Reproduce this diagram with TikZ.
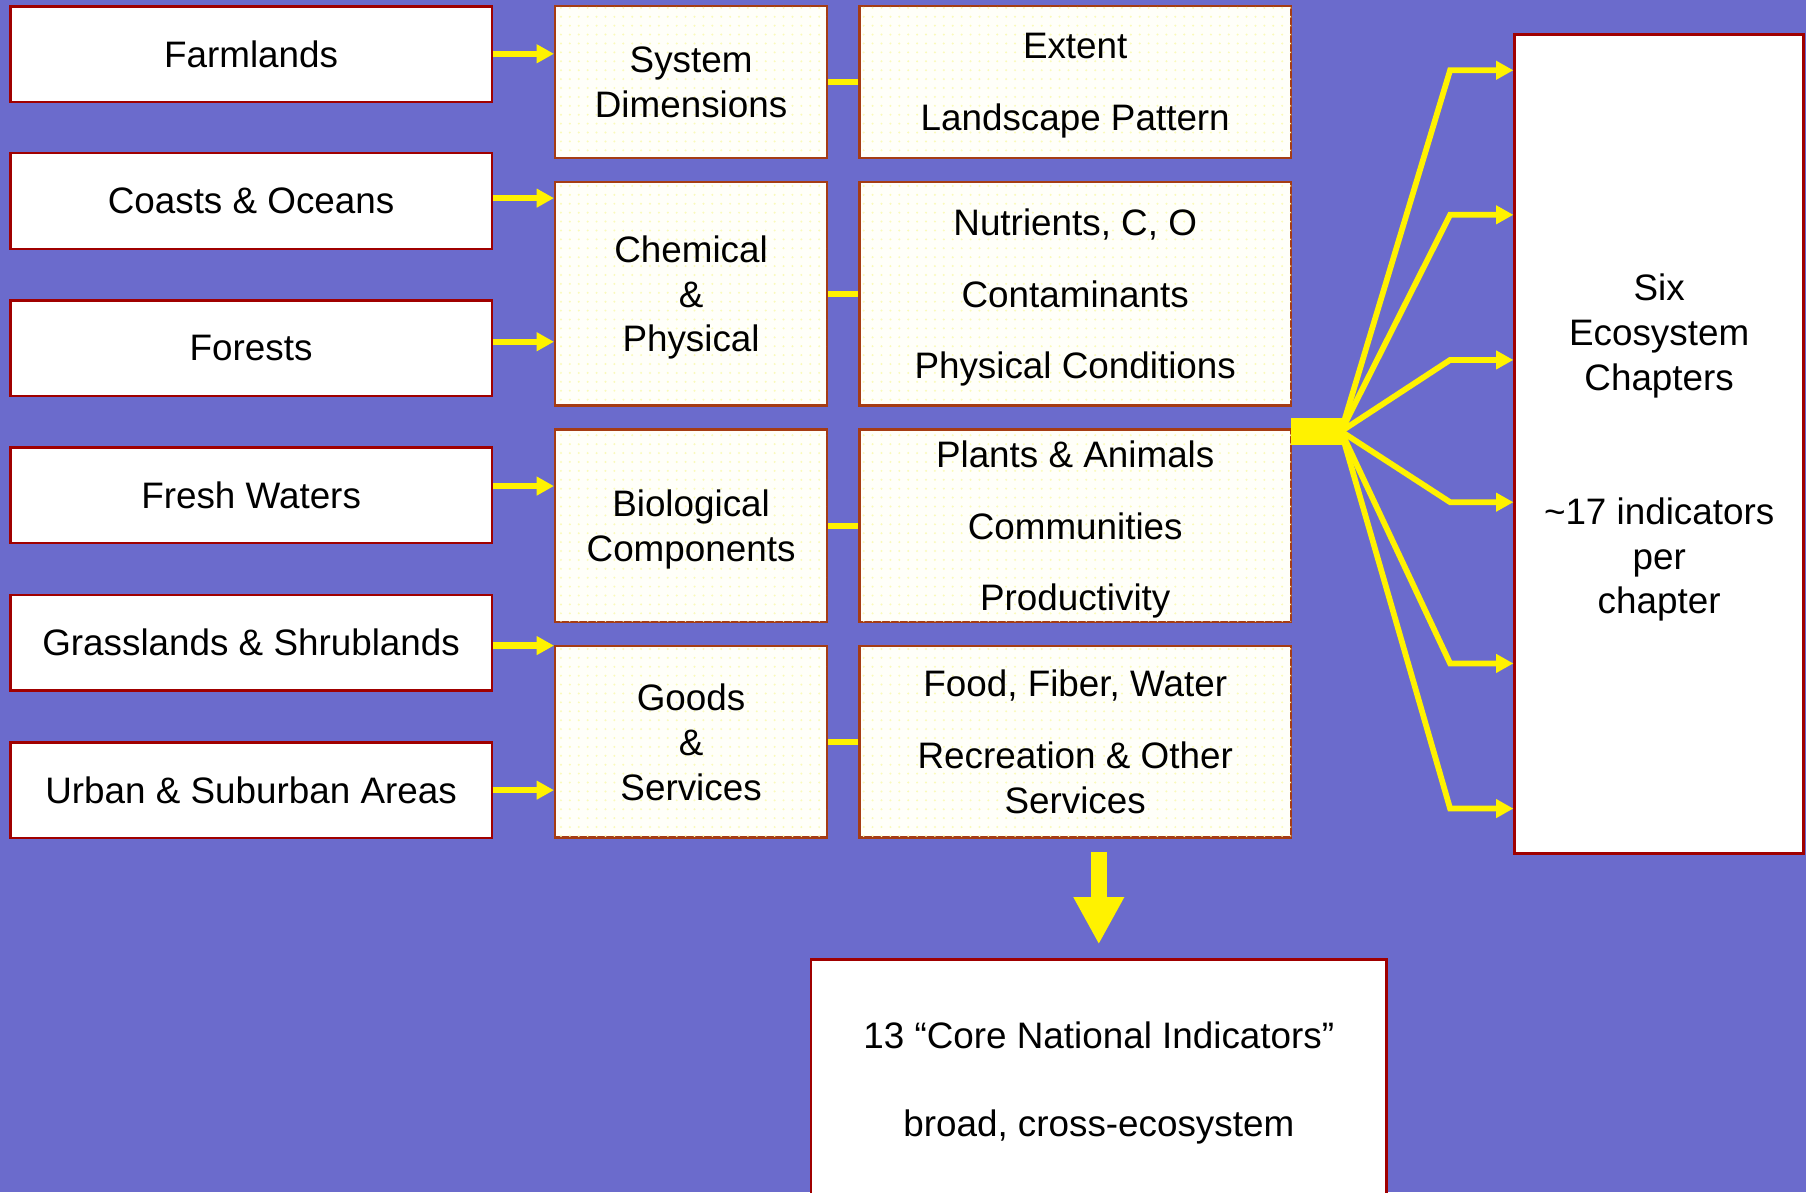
\documentclass[tikz,border=0pt]{standalone}
\usepackage{fontspec}
\setmainfont{Liberation Sans}
\usetikzlibrary{arrows.meta,patterns.meta}
\definecolor{bgblue}{RGB}{107,107,204}
\definecolor{boxred}{RGB}{160,0,0}
\definecolor{boxbrown}{RGB}{165,60,20}
\definecolor{cream}{RGB}{255,255,249}
\definecolor{dotyel}{RGB}{250,250,185}
\pgfdeclarepattern{name=creamdots, type=uncolored,
  bottom left={\pgfpoint{-2.2pt}{-2.2pt}}, top right={\pgfpoint{2.2pt}{2.2pt}},
  tile size={\pgfpoint{4.4pt}{4.4pt}},
  code={\pgfpathcircle{\pgfpointorigin}{0.55pt}\pgfusepath{fill}}}
\newcommand\myfs{\fontsize{18.2}{22.2}\selectfont}
\tikzset{
  land/.style={draw=boxred, line width=1.2pt, fill=white, minimum width=8.36cm,
    minimum height=1.66cm, inner sep=0pt, align=center, font=\myfs},
  midbox/.style={draw=boxbrown, line width=1.2pt, fill=cream,
    postaction={pattern=creamdots, pattern color=dotyel},
    inner sep=0pt, align=center, font=\myfs, text depth=-1.4pt},
  colA/.style={midbox, minimum width=4.72cm},
  colB/.style={midbox, minimum width=7.5cm},
  bigbox/.style={draw=boxred, line width=1.2pt, fill=white, inner sep=0pt,
    align=center, font=\myfs, text depth=-1.4pt},
  yarr/.style={draw=yellow, line width=0.11cm, -{Triangle[length=0.3cm,width=0.31cm]}},
  yline/.style={draw=yellow, line width=0.1cm},
  fanarr/.style={draw=yellow, line width=0.1cm, -{Triangle[length=0.3cm,width=0.31cm]}},
}
\begin{document}
\begin{tikzpicture}[x=0.02cm, y=-0.02cm]
\path[use as bounding box, clip] (0,0) rectangle (1568,1035);
\fill[bgblue] (0,0) rectangle (1568,1035);

% left column
\node[land] (farm)   at (218,47)    {Farmlands};
\node[land] (coast)  at (218,174.5) {Coasts \& Oceans};
\node[land] (forest) at (218,302.5) {Forests};
\node[land] (fresh)  at (218,430)   {Fresh Waters};
\node[land] (grass)  at (218,558)   {Grasslands \& Shrublands};
\node[land] (urban)  at (218,686)   {Urban \& Suburban Areas};

% middle column 1
\node[colA, minimum height=2.64cm] (sys)   at (600,71)    {System\\Dimensions};
\node[colA, minimum height=3.88cm] (chem)  at (600,255)   {Chemical\\\&\\Physical};
\node[colA, minimum height=3.34cm] (bio)   at (600,456.5) {Biological\\Components};
\node[colA, minimum height=3.32cm] (goods) at (600,644)   {Goods\\\&\\Services};

% middle column 2
\node[colB, minimum height=2.64cm] (ext)   at (933.5,71)    {Extent\\[13.1pt]Landscape Pattern};
\node[colB, minimum height=3.88cm] (nutr)  at (933.5,255)   {Nutrients, C, O\\[13.1pt]Contaminants\\[13.1pt]Physical Conditions};
\node[colB, minimum height=3.34cm] (plant) at (933.5,456.5) {Plants \& Animals\\[13.1pt]Communities\\[13.1pt]Productivity};
\node[colB, minimum height=3.32cm] (food)  at (933.5,644)   {Food, Fiber, Water\\[13.1pt]Recreation \& Other\\Services};

% right box
\node[bigbox, minimum width=5.02cm, minimum height=14.22cm] (six) at (1440.5,385.5)
  {Six\\Ecosystem\\Chapters\\[43.8pt]\textasciitilde17 indicators\\per\\chapter};

% bottom box
\node[bigbox, minimum width=10cm, minimum height=4.16cm] (core) at (954,937)
  {13 “Core National Indicators”\\[21.6pt]broad, cross-ecosystem};

% hub block
\node[fill=yellow, inner sep=0pt, minimum width=0.9cm, minimum height=0.46cm] (hub) at (1143.5,374.5) {};

% left arrows
\draw[yarr] ([yshift=0.006cm]farm.east)   -- ([yshift=0.006cm]farm.east -| sys.west);
\draw[yarr] ([yshift=0.05cm]coast.east)   -- ([yshift=0.05cm]coast.east -| chem.west);
\draw[yarr] ([yshift=0.116cm]forest.east) -- ([yshift=0.116cm]forest.east -| chem.west);
\draw[yarr] ([yshift=0.16cm]fresh.east)   -- ([yshift=0.16cm]fresh.east -| bio.west);
\draw[yarr] ([yshift=-0.05cm]grass.east)  -- ([yshift=-0.05cm]grass.east -| goods.west);
\draw[yarr] (urban.east) -- (urban.east -| goods.west);

% column connectors
\draw[yline] (sys.east)   -- (ext.west);
\draw[yline] (chem.east)  -- (nutr.west);
\draw[yline] (bio.east)   -- (plant.west);
\draw[yline] (goods.east) -- (food.west);

% fan
\coordinate (b1) at (1259,61);
\coordinate (b2) at (1259,186.5);
\coordinate (b3) at (1259,312.5);
\coordinate (b4) at (1259,436);
\coordinate (b5) at (1259,576);
\coordinate (b6) at (1259,702);
\foreach \b in {b1,b2,b3,b4,b5,b6}{
  \draw[fanarr] ([xshift=-0.04cm]hub.east) -- (\b) -- (\b -| six.west);
}

% down arrow
\draw[yellow, line width=0.28cm, -{Triangle[length=0.82cm,width=0.82cm]},
  shorten <=0.24cm, shorten >=0.24cm] (core.north |- food.south) -- (core.north);
\end{tikzpicture}
\end{document}
